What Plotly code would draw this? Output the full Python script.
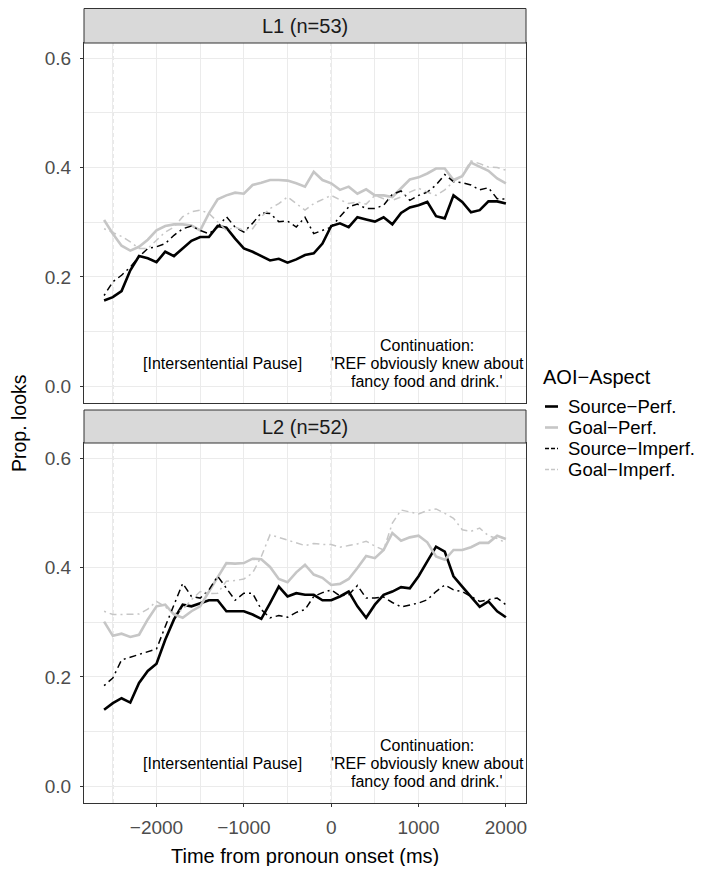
import plotly.graph_objects as go

# ---------------- data ----------------
time_ms = list(range(-2600, 2001, 100))

panels = ["L1 (n=53)", "L2 (n=52)"]
series_names = ["Source−Perf.", "Goal−Perf.", "Source−Imperf.", "Goal−Imperf."]

L1_source_perf = [0.157,0.163,0.174,0.212,0.238,0.234,0.227,0.246,0.238,0.252,0.266,0.273,0.273,0.293,0.290,0.270,0.252,0.246,0.238,0.230,0.233,0.226,0.232,0.240,0.243,0.261,0.293,0.298,0.291,0.309,0.305,0.301,0.309,0.296,0.317,0.327,0.331,0.337,0.311,0.307,0.349,0.337,0.318,0.322,0.338,0.338,0.334]
L1_goal_perf = [0.304,0.279,0.257,0.248,0.255,0.268,0.285,0.293,0.296,0.296,0.294,0.285,0.316,0.342,0.349,0.354,0.352,0.368,0.372,0.377,0.377,0.376,0.371,0.365,0.392,0.377,0.371,0.359,0.365,0.352,0.360,0.349,0.349,0.346,0.362,0.378,0.382,0.389,0.398,0.398,0.377,0.384,0.409,0.401,0.394,0.380,0.371]
L1_source_imperf = [0.166,0.191,0.203,0.218,0.237,0.252,0.255,0.261,0.276,0.288,0.293,0.285,0.279,0.291,0.310,0.291,0.282,0.298,0.317,0.316,0.301,0.302,0.291,0.309,0.279,0.285,0.291,0.310,0.328,0.333,0.325,0.325,0.331,0.351,0.357,0.340,0.349,0.355,0.368,0.387,0.374,0.372,0.368,0.359,0.363,0.343,0.342]
L1_goal_imperf = [0.288,0.281,0.274,0.264,0.252,0.252,0.267,0.282,0.291,0.310,0.319,0.322,0.316,0.301,0.285,0.291,0.285,0.288,0.310,0.325,0.334,0.346,0.334,0.322,0.334,0.341,0.349,0.341,0.334,0.337,0.333,0.349,0.343,0.340,0.346,0.355,0.362,0.355,0.349,0.359,0.374,0.386,0.412,0.407,0.401,0.400,0.395]

L2_source_perf = [0.140,0.152,0.161,0.153,0.189,0.211,0.224,0.268,0.305,0.332,0.329,0.335,0.340,0.340,0.320,0.320,0.320,0.314,0.306,0.335,0.365,0.347,0.353,0.350,0.350,0.340,0.340,0.347,0.356,0.329,0.308,0.332,0.350,0.356,0.364,0.362,0.384,0.411,0.438,0.429,0.384,0.365,0.347,0.328,0.338,0.320,0.309]
L2_goal_perf = [0.301,0.275,0.279,0.273,0.277,0.305,0.329,0.332,0.314,0.308,0.320,0.329,0.356,0.381,0.408,0.407,0.408,0.416,0.415,0.401,0.379,0.373,0.391,0.405,0.387,0.381,0.368,0.370,0.379,0.399,0.421,0.417,0.432,0.463,0.449,0.455,0.458,0.446,0.420,0.414,0.432,0.432,0.437,0.445,0.445,0.458,0.452]
L2_source_imperf = [0.184,0.198,0.231,0.236,0.241,0.247,0.251,0.292,0.330,0.371,0.347,0.344,0.359,0.384,0.362,0.340,0.353,0.353,0.323,0.308,0.312,0.309,0.318,0.323,0.347,0.354,0.359,0.348,0.350,0.367,0.344,0.344,0.346,0.336,0.328,0.331,0.335,0.341,0.356,0.368,0.359,0.356,0.347,0.338,0.341,0.344,0.332]
L2_goal_imperf = [0.320,0.314,0.314,0.314,0.315,0.324,0.338,0.328,0.315,0.323,0.341,0.356,0.352,0.353,0.375,0.376,0.379,0.390,0.420,0.460,0.455,0.451,0.446,0.440,0.444,0.442,0.442,0.437,0.440,0.443,0.448,0.439,0.432,0.481,0.505,0.502,0.498,0.504,0.507,0.499,0.490,0.469,0.466,0.472,0.458,0.453,0.445]

x_tick_vals = [-2000, -1000, 0, 1000, 2000]
x_tick_labels = ["−2000", "−1000", "0", "1000", "2000"]
y_tick_vals = [0.0, 0.2, 0.4, 0.6]
y_tick_labels = ["0.0", "0.2", "0.4", "0.6"]
event_lines_ms = [-2500, 0]

pause_label = "[Intersentential Pause]"
continuation_lines = ["Continuation:", "'REF obviously knew about", "fancy food and drink.'"]

# ---------------- styling ----------------
FONT = "Liberation Sans, Arial, Helvetica, sans-serif"
BLACK = "#000000"
GREY = "#C6C6C6"
DOTDASH = "2px,4px,7px,4px"
styles = [
    dict(color=BLACK, width=2.6, dash="solid"),
    dict(color=GREY, width=2.6, dash="solid"),
    dict(color=BLACK, width=1.5, dash=DOTDASH),
    dict(color=GREY, width=1.5, dash=DOTDASH),
]
panel_data = [
    [L1_source_perf, L1_goal_perf, L1_source_imperf, L1_goal_imperf],
    [L2_source_perf, L2_goal_perf, L2_source_imperf, L2_goal_imperf],
]

# The page body has an 8px margin, so the figure is sized 8px smaller and
# all pixel positions below are page pixels shifted by OFF.
OFF = 8
PAGE_W, PAGE_H = 716, 870
W, H = PAGE_W - OFF, PAGE_H - OFF
PLOT_L, PLOT_R, PLOT_T, PLOT_B = 84, 526, 8, 803   # page pixels (incl. strips)
ML = PLOT_L - OFF
MR = W - (PLOT_R - OFF)
MT = PLOT_T - OFF
MB = H - (PLOT_B - OFF)
PW = W - ML - MR
PH = H - MT - MB


def py(pix):  # page pixel y -> paper y
    return (PLOT_B - pix) / PH


def px(pix):  # page pixel x -> paper x
    return (pix - PLOT_L) / PW


fig = go.Figure()
for p, series in enumerate(panel_data):
    xa = "x" if p == 0 else "x2"
    ya = "y" if p == 0 else "y2"
    for s, vals in enumerate(series):
        assert len(vals) == len(time_ms)
        fig.add_trace(go.Scatter(
            x=time_ms, y=vals, mode="lines", name=series_names[s],
            line=styles[s], xaxis=xa, yaxis=ya, showlegend=False,
            hoverinfo="x+y+name",
        ))

axis_common = dict(
    showline=True, mirror=True, linecolor="#333333", linewidth=1,
    showgrid=True, gridcolor="#EBEBEB", gridwidth=1.1, zeroline=False,
    tickfont=dict(family=FONT, size=19, color="#4D4D4D"),
)
x_range = [-2830, 2230]
y_range = [-0.0305, 0.6275]
top_dom = [py(403), py(43)]
bot_dom = [0, py(443)]

fig.update_layout(
    width=W, height=H,
    margin=dict(l=ML, r=MR, t=MT, b=MB, pad=0),
    paper_bgcolor="white", plot_bgcolor="white",
    font=dict(family=FONT, color="#000000"),
    xaxis=dict(axis_common, domain=[0, 1], range=x_range, anchor="y",
               tickvals=x_tick_vals, showticklabels=False, ticks="",
               minor=dict(dtick=500, tick0=0, showgrid=True, gridcolor="#EBEBEB", gridwidth=0.6)),
    yaxis=dict(axis_common, domain=top_dom, range=y_range, anchor="x",
               tickvals=y_tick_vals, ticktext=y_tick_labels, ticks="outside",
               ticklen=3, tickcolor="#333333", ticklabelstandoff=5,
               minor=dict(dtick=0.1, tick0=0, showgrid=True, gridcolor="#EBEBEB", gridwidth=0.6)),
    xaxis2=dict(axis_common, domain=[0, 1], range=x_range, anchor="y2",
                tickvals=x_tick_vals, ticktext=x_tick_labels, ticks="outside",
                ticklen=3, tickcolor="#333333", ticklabelstandoff=4,
                minor=dict(dtick=500, tick0=0, showgrid=True, gridcolor="#EBEBEB", gridwidth=0.6)),
    yaxis2=dict(axis_common, domain=bot_dom, range=y_range, anchor="x2",
                tickvals=y_tick_vals, ticktext=y_tick_labels, ticks="outside",
                ticklen=3, tickcolor="#333333", ticklabelstandoff=5,
                minor=dict(dtick=0.1, tick0=0, showgrid=True, gridcolor="#EBEBEB", gridwidth=0.6)),
)

shapes = []
annotations = []
# event (vertical dashed) lines
for p in range(2):
    xr = "x" if p == 0 else "x2"
    yr = "y domain" if p == 0 else "y2 domain"
    for ev in event_lines_ms:
        shapes.append(dict(type="line", xref=xr, yref=yr, x0=ev, x1=ev, y0=0, y1=1,
                           line=dict(color="#BDBDBD", width=1, dash="4px,3px"), layer="below"))

# strips
strip_pix = [(8.5, 43), (410, 443)]
for p, (top, bot) in enumerate(strip_pix):
    shapes.append(dict(type="rect", xref="paper", yref="paper", x0=0, x1=1,
                       y0=py(bot), y1=py(top), fillcolor="#D9D9D9",
                       line=dict(color="#333333", width=1), layer="above"))
    annotations.append(dict(xref="paper", yref="paper", x=0.5, y=(py(bot) + py(top)) / 2,
                            text=panels[p], showarrow=False, xanchor="center", yanchor="middle",
                            font=dict(family=FONT, size=20, color="#1A1A1A")))

# in-panel text
cont_y = [0.074, 0.0412, 0.0085]
for p in range(2):
    xr = "x" if p == 0 else "x2"
    yr = "y" if p == 0 else "y2"
    annotations.append(dict(xref=xr, yref=yr, x=-1250, y=0.0412, text=pause_label,
                            showarrow=False, xanchor="center", yanchor="middle",
                            font=dict(family=FONT, size=16, color="#000000")))
    for line_text, yy in zip(continuation_lines, cont_y):
        annotations.append(dict(xref=xr, yref=yr, x=1100, y=yy, text=line_text,
                                showarrow=False, xanchor="center", yanchor="middle",
                                height=17.5, borderpad=0,
                                font=dict(family=FONT, size=16, color="#000000")))

# axis titles
annotations.append(dict(xref="paper", yref="paper", x=0.5, y=py(855), text="Time from pronoun onset (ms)",
                        showarrow=False, xanchor="center", yanchor="middle", height=21, borderpad=0,
                        font=dict(family=FONT, size=20, color="#000000")))
annotations.append(dict(xref="paper", yref="paper", x=px(19), y=py(423), text="Prop. looks",
                        showarrow=False, xanchor="center", yanchor="middle", textangle=-90,
                        font=dict(family=FONT, size=19.5, color="#000000")))

# legend (manual, ggplot-like)
annotations.append(dict(xref="paper", yref="paper", x=px(541), y=py(377), text="AOI−Aspect",
                        showarrow=False, xanchor="left", yanchor="middle",
                        font=dict(family=FONT, size=20, color="#000000")))
legend_y_pix = [406.5, 427.5, 448.5, 469.5]
for s, name in enumerate(series_names):
    yy = py(legend_y_pix[s])
    shapes.append(dict(type="line", xref="paper", yref="paper", x0=px(545), x1=px(558), y0=yy, y1=yy,
                       line=dict(color=styles[s]["color"], width=styles[s]["width"],
                                 dash=styles[s]["dash"] if styles[s]["dash"] == "solid" else "4px,2px")))
    annotations.append(dict(xref="paper", yref="paper", x=px(567), y=yy, text=name,
                            showarrow=False, xanchor="left", yanchor="middle", height=20.5,
                            borderpad=0,
                            font=dict(family=FONT, size=18.5, color="#000000")))

fig.update_layout(shapes=shapes, annotations=annotations)
fig.write_html("out.html")
